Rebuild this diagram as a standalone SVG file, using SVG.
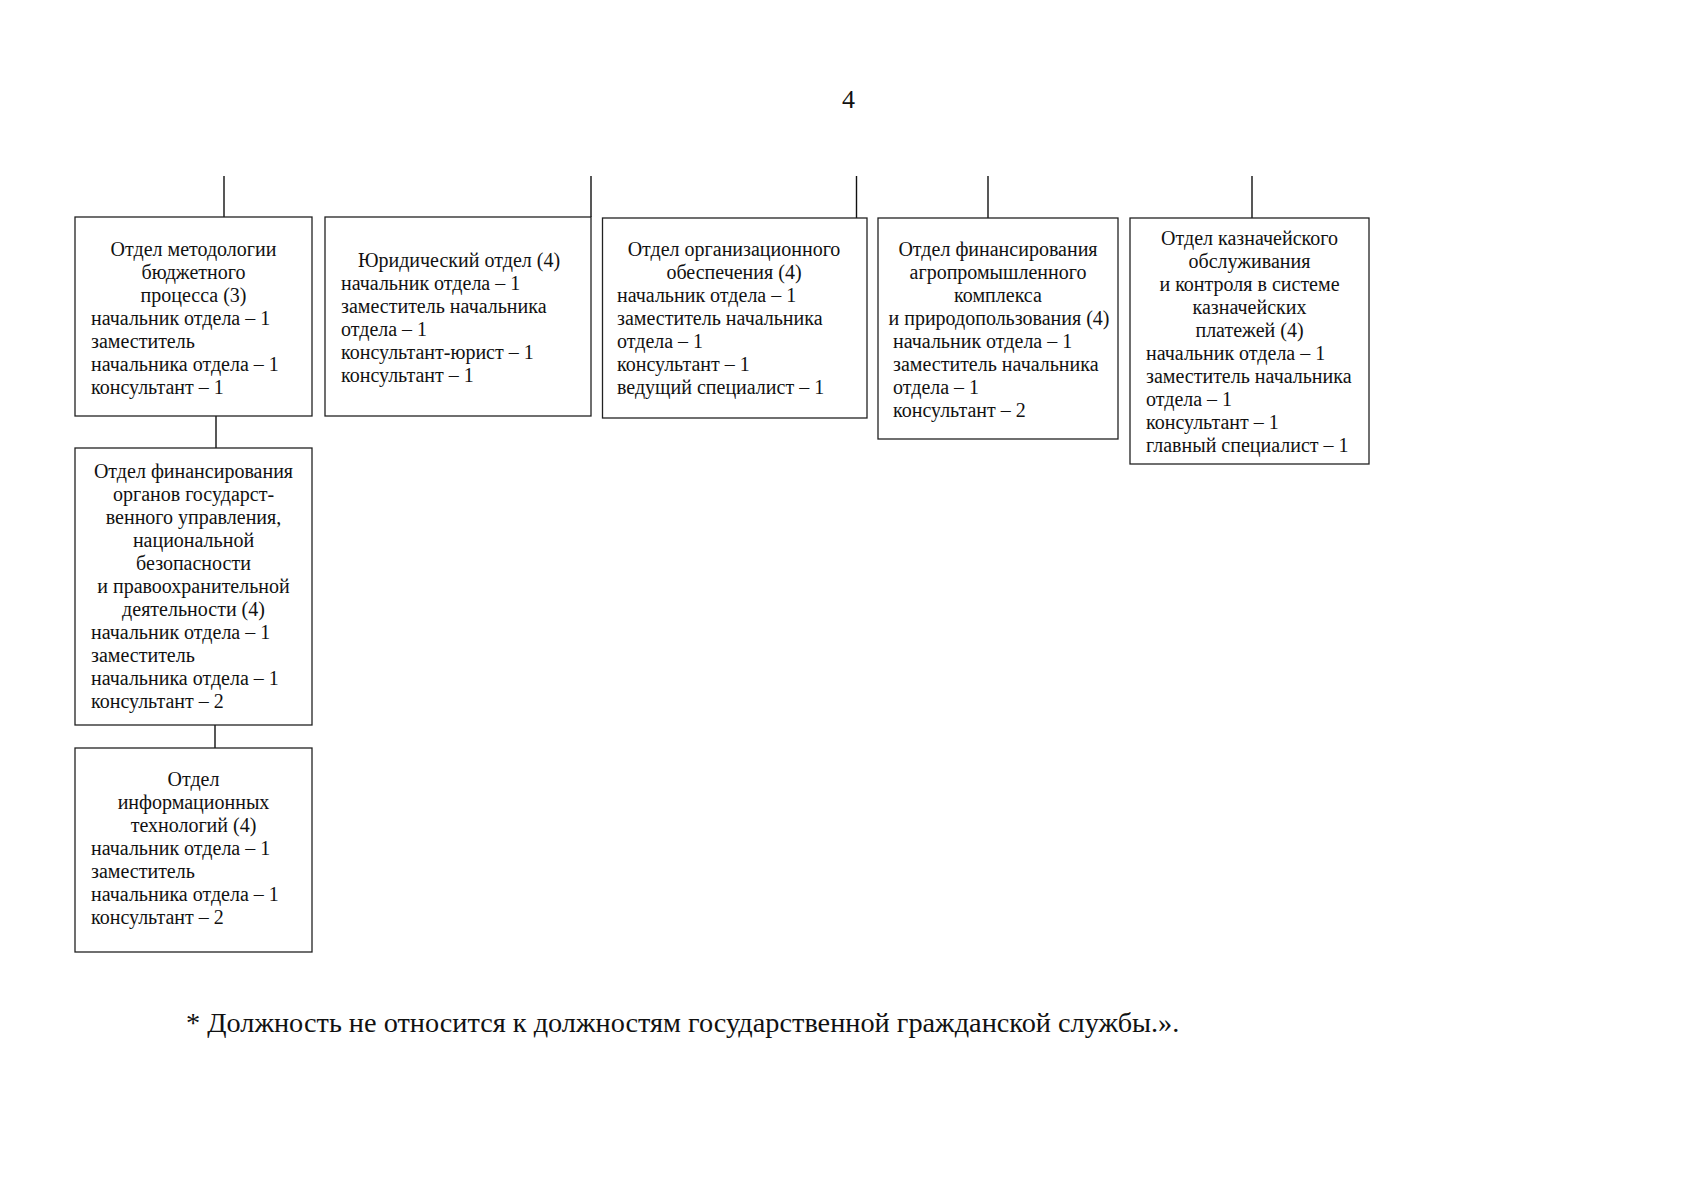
<svg xmlns="http://www.w3.org/2000/svg" width="1697" height="1200" viewBox="0 0 1697 1200">
<style>
.bg{fill:#ffffff}
.box{fill:#ffffff;stroke:#222;stroke-width:1.3}
.ln{stroke:#111;stroke-width:1.4;fill:none}
text{font-family:"Liberation Serif","Times New Roman",serif;fill:#111}
.t{font-size:20px}
.c{text-anchor:middle}
.pg{font-size:26px;text-anchor:middle}
.fn{font-size:28.3px}
</style>
<rect class="bg" x="0" y="0" width="1697" height="1200"/>
<text class="pg" x="848.5" y="108">4</text>

<g id="connectors">
<line class="ln" x1="224" y1="176" x2="224" y2="217"/>
<line class="ln" x1="591" y1="176" x2="591" y2="217"/>
<line class="ln" x1="856.5" y1="176" x2="856.5" y2="218"/>
<line class="ln" x1="988" y1="176" x2="988" y2="218"/>
<line class="ln" x1="1252" y1="176" x2="1252" y2="218"/>
<line class="ln" x1="216" y1="416" x2="216" y2="448"/>
<line class="ln" x1="215" y1="725" x2="215" y2="748"/>
</g>

<g id="n1">
<rect class="box" x="75" y="217" width="237" height="199"/>
<text class="t c" x="193.5" y="256">Отдел методологии</text>
<text class="t c" x="193.5" y="279">бюджетного</text>
<text class="t c" x="193.5" y="302">процесса (3)</text>
<text class="t" x="91" y="325">начальник отдела – 1</text>
<text class="t" x="91" y="348">заместитель</text>
<text class="t" x="91" y="371">начальника отдела – 1</text>
<text class="t" x="91" y="394">консультант – 1</text>
</g>

<g id="n2">
<rect class="box" x="325" y="217" width="266" height="199"/>
<text class="t c" x="459" y="267">Юридический отдел (4)</text>
<text class="t" x="341" y="290">начальник отдела – 1</text>
<text class="t" x="341" y="313">заместитель начальника</text>
<text class="t" x="341" y="336">отдела – 1</text>
<text class="t" x="341" y="359">консультант-юрист – 1</text>
<text class="t" x="341" y="382">консультант – 1</text>
</g>

<g id="n3">
<rect class="box" x="602.5" y="218" width="264.5" height="200"/>
<text class="t c" x="734" y="256">Отдел организационного</text>
<text class="t c" x="734" y="279">обеспечения (4)</text>
<text class="t" x="617" y="302">начальник отдела – 1</text>
<text class="t" x="617" y="325">заместитель начальника</text>
<text class="t" x="617" y="348">отдела – 1</text>
<text class="t" x="617" y="371">консультант – 1</text>
<text class="t" x="617" y="394">ведущий специалист – 1</text>
</g>

<g id="n4">
<rect class="box" x="878" y="218" width="240" height="221"/>
<text class="t c" x="998" y="256">Отдел финансирования</text>
<text class="t c" x="998" y="279">агропромышленного</text>
<text class="t c" x="998" y="302">комплекса</text>
<text class="t c" x="999" y="325">и природопользования (4)</text>
<text class="t" x="893" y="348">начальник отдела – 1</text>
<text class="t" x="893" y="371">заместитель начальника</text>
<text class="t" x="893" y="394">отдела – 1</text>
<text class="t" x="893" y="417">консультант – 2</text>
</g>

<g id="n5">
<rect class="box" x="1130" y="218" width="239" height="246"/>
<text class="t c" x="1249.5" y="245">Отдел казначейского</text>
<text class="t c" x="1249.5" y="268">обслуживания</text>
<text class="t c" x="1249.5" y="291">и контроля в системе</text>
<text class="t c" x="1249.5" y="314">казначейских</text>
<text class="t c" x="1249.5" y="337">платежей (4)</text>
<text class="t" x="1146" y="360">начальник отдела – 1</text>
<text class="t" x="1146" y="383">заместитель начальника</text>
<text class="t" x="1146" y="406">отдела – 1</text>
<text class="t" x="1146" y="429">консультант – 1</text>
<text class="t" x="1146" y="452">главный специалист – 1</text>
</g>

<g id="n6">
<rect class="box" x="75" y="448" width="237" height="277"/>
<text class="t c" x="193.5" y="478">Отдел финансирования</text>
<text class="t c" x="193.5" y="501">органов государст-</text>
<text class="t c" x="193.5" y="524">венного управления,</text>
<text class="t c" x="193.5" y="547">национальной</text>
<text class="t c" x="193.5" y="570">безопасности</text>
<text class="t c" x="193.5" y="593">и правоохранительной</text>
<text class="t c" x="193.5" y="616">деятельности (4)</text>
<text class="t" x="91" y="639">начальник отдела – 1</text>
<text class="t" x="91" y="662">заместитель</text>
<text class="t" x="91" y="685">начальника отдела – 1</text>
<text class="t" x="91" y="708">консультант – 2</text>
</g>

<g id="n7">
<rect class="box" x="75" y="748" width="237" height="204"/>
<text class="t c" x="193.5" y="786">Отдел</text>
<text class="t c" x="193.5" y="809">информационных</text>
<text class="t c" x="193.5" y="832">технологий (4)</text>
<text class="t" x="91" y="855">начальник отдела – 1</text>
<text class="t" x="91" y="878">заместитель</text>
<text class="t" x="91" y="901">начальника отдела – 1</text>
<text class="t" x="91" y="924">консультант – 2</text>
</g>

<text class="fn" x="186" y="1032">* Должность не относится к должностям государственной гражданской службы.».</text>
</svg>
